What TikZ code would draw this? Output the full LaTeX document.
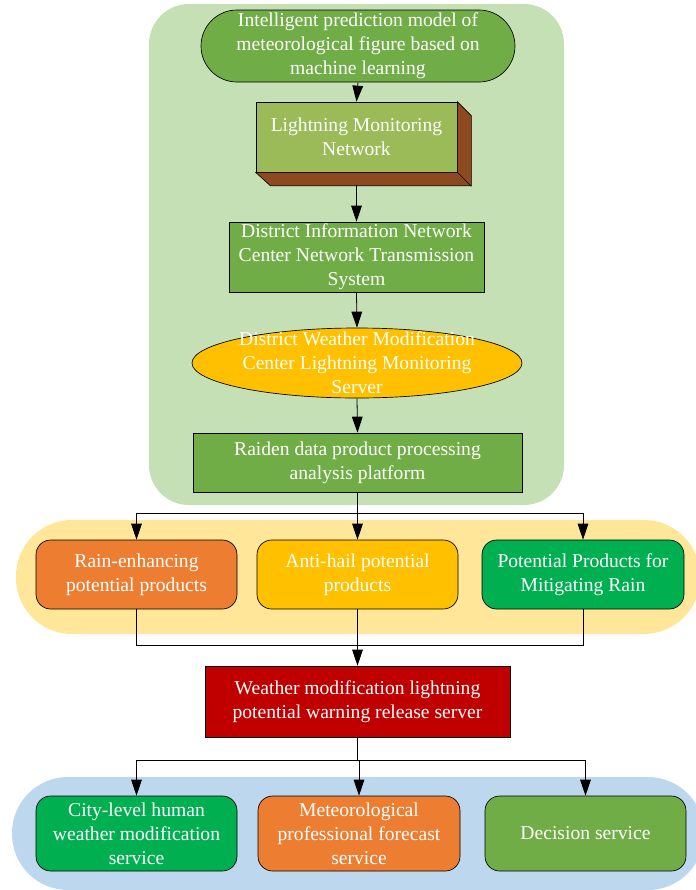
\documentclass[tikz,border=0pt]{standalone}
\usepackage{fontspec}
\setmainfont{Liberation Serif}
\usetikzlibrary{arrows.meta,shapes.geometric}
\definecolor{leaf}{RGB}{112,173,71}
\definecolor{moss}{RGB}{155,187,89}
\definecolor{bark}{RGB}{140,74,30}
\definecolor{gold}{RGB}{255,192,0}
\definecolor{tangerine}{RGB}{237,125,49}
\definecolor{emerald}{RGB}{0,176,80}
\definecolor{crimson}{RGB}{192,0,0}
\definecolor{bggreen}{RGB}{197,224,180}
\definecolor{bgyellow}{RGB}{255,230,153}
\definecolor{bgblue}{RGB}{189,215,238}
\tikzset{
  >={Triangle[length=12pt,width=8pt]},
  boxsize/.style 2 args={minimum width=#1*0.75pt, minimum height=#2*0.75pt},
  txt/.style={text=white, align=center, inner sep=0pt,
    font=\fontsize{14.7}{18}\selectfont},
  box/.style={txt, draw=black, line width=0.5pt},
  rbox/.style={box, rounded corners=11pt},
  link/.style={draw=black, line width=0.6pt}
}

\begin{document}
\begin{tikzpicture}[x=0.75pt,y=-0.75pt]
  \useasboundingbox (0,0) rectangle (696,890);
  % coloured bands
  \fill[bggreen, rounded corners=30pt] (149,4) rectangle (564,505);
  \fill[bgyellow, rounded corners=42pt] (16,520) rectangle (700,634);
  \fill[bgblue, rounded corners=42pt] (12,777) rectangle (704,890);
  % upper chain
  \node[box, rounded corners=27pt, fill=leaf, boxsize={314}{72}] (n1) at (358,46)
    {Intelligent prediction model of\\meteorological figure based on\\machine learning};
  \node[box, fill=moss, boxsize={201}{70}] (n2) at (356.5,137)
    {Lightning Monitoring\\Network};
  \node[box, fill=leaf, boxsize={255}{70}] (n3) at (356.5,257)
    {District Information Network\\Center Network Transmission\\System};
  \node[ellipse, draw=black, line width=0.5pt, fill=gold, inner sep=0pt,
    boxsize={330}{70}] (n4) at (357,363) {};
  \node[txt] (n4t) at (n4.center)
    {District Weather Modification\\Center Lightning Monitoring\\Server};
  \node[box, fill=leaf, boxsize={329}{59}] (n5) at (357.5,462.5)
    {Raiden data product processing\\analysis platform};
  \draw[link,->] (n1.south) -- (n2.north);
  \draw[link,->] (n2.south) -- (n3.north);
  \draw[link,->] (n3.south) -- (n4.north);
  \draw[link,->] (n4.south) -- (n5.north);
  % 3d side of the network box
  \filldraw[fill=bark, line width=0.5pt] (n2.north east) -- ++(14,14) -- ++(0,70)
    -- ++(-201,0) -- (n2.south west) -- (n2.south east) -- cycle;
  \draw[line width=0.5pt] (n2.south east) -- ++(14,14);
  % potential products
  \node[rbox, fill=tangerine, boxsize={201}{69}] (m1) at (136.5,574.5)
    {Rain-enhancing\\potential products};
  \node[rbox, fill=gold, boxsize={201}{69}] (m2) at (357.5,574.5)
    {Anti-hail potential\\products};
  \node[rbox, fill=emerald, boxsize={202}{69}] (m3) at (583,574.5)
    {Potential Products for\\Mitigating Rain};
  \node[box, fill=crimson, boxsize={305}{71}] (n6) at (357.5,701.5)
    {Weather modification lightning\\potential warning release server};
  \coordinate (j1) at (357.5,645);
  \foreach \m in {m1,m2,m3} {
    \draw[link,->] (n5.south) -- ++(0,21) -| (\m.north);
    \draw[link] (\m.south) |- (j1);
  }
  \draw[link,->] (j1) -- (n6.north);
  % services
  \node[rbox, fill=emerald, boxsize={201}{75}] (s1) at (136.5,833.5)
    {City-level human\\weather modification\\service};
  \node[rbox, fill=tangerine, boxsize={202}{75}] (s2) at (359,833.5)
    {Meteorological\\professional forecast\\service};
  \node[rbox, fill=leaf, boxsize={201}{75}] (s3) at (585.5,833.5)
    {Decision service};
  \foreach \s in {s1,s2,s3}
    \draw[link,->] (n6.south) -- ++(0,23) -| (\s.north);
\end{tikzpicture}
\end{document}
